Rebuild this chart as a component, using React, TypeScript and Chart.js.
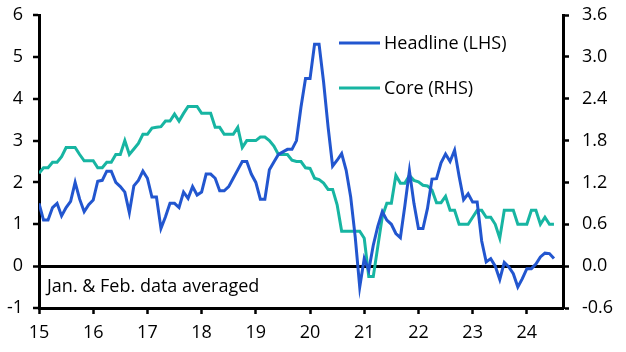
import React, { useEffect, useRef } from "react";
import { Chart, registerables } from "chart.js";

Chart.register(...registerables);

// Monthly data, Jan 2015 - Jul 2024
const startYear = 15;
const yearLabels = ["15", "16", "17", "18", "19", "20", "21", "22", "23", "24"];

const headline = [
  // 2015
  1.5, 1.1, 1.1, 1.4, 1.5, 1.2, 1.4, 1.55, 2.0, 1.6, 1.3, 1.47,
  // 2016
  1.58, 2.03, 2.05, 2.27, 2.27, 2.0, 1.9, 1.77, 1.28, 1.92, 2.05, 2.27,
  // 2017
  2.1, 1.65, 1.65, 0.9, 1.18, 1.5, 1.5, 1.4, 1.77, 1.62, 1.9, 1.7,
  // 2018
  1.77, 2.2, 2.2, 2.1, 1.8, 1.8, 1.9, 2.1, 2.3, 2.5, 2.5, 2.2,
  // 2019
  2.0, 1.6, 1.6, 2.3, 2.49, 2.67, 2.73, 2.79, 2.79, 3.0, 3.8, 4.48,
  // 2020
  4.48, 5.3, 5.3, 4.4, 3.32, 2.39, 2.53, 2.69, 2.29, 1.65, 0.7, -0.5,
  // 2021
  0.18, -0.1, 0.5, 0.95, 1.3, 1.1, 1.0, 0.78, 0.68, 1.45, 2.28, 1.5,
  // 2022
  0.9, 0.9, 1.38, 2.08, 2.09, 2.47, 2.68, 2.5, 2.77, 2.15, 1.59, 1.73,
  // 2023
  1.53, 1.53, 0.6, 0.1, 0.18, 0.0, -0.32, 0.09, -0.02, -0.18, -0.5, -0.3,
  // 2024
  -0.06, -0.06, 0.05, 0.22, 0.31, 0.3, 0.18,
];

const core = [
  // 2015
  1.33, 1.41, 1.41, 1.49, 1.49, 1.57, 1.7, 1.7, 1.7, 1.6, 1.51, 1.51,
  // 2016
  1.51, 1.41, 1.41, 1.49, 1.49, 1.6, 1.6, 1.8, 1.6, 1.68, 1.76, 1.89,
  // 2017
  1.89, 1.98, 1.99, 2.0, 2.08, 2.08, 2.18, 2.08, 2.19, 2.29, 2.29, 2.29,
  // 2018
  2.19, 2.19, 2.19, 1.99, 1.99, 1.89, 1.89, 1.89, 1.99, 1.7, 1.8, 1.8,
  // 2019
  1.8, 1.85, 1.85, 1.8, 1.72, 1.6, 1.6, 1.6, 1.52, 1.5, 1.5, 1.41,
  // 2020
  1.4, 1.26, 1.24, 1.19, 1.1, 1.1, 0.88, 0.5, 0.5, 0.5, 0.5, 0.5,
  // 2021
  0.4, -0.15, -0.15, 0.28, 0.71, 0.9, 0.9, 1.3, 1.19, 1.19, 1.3, 1.23,
  // 2022
  1.21, 1.16, 1.15, 1.09, 0.91, 0.91, 1.0, 0.8, 0.8, 0.6, 0.6, 0.6,
  // 2023
  0.7, 0.8, 0.8, 0.7, 0.7, 0.6, 0.4, 0.8, 0.8, 0.8, 0.6, 0.6,
  // 2024
  0.6, 0.8, 0.8, 0.6, 0.7, 0.6, 0.6,
];

const seriesNames = ["Headline (LHS)", "Core (RHS)"];
const noteText = "Jan. & Feb. data averaged";

const BLUE = "#2256CF";
const TEAL = "#17B5A2";
const FONT = '"Open Sans", "Noto Sans", sans-serif';
const FSIZE = 18;

const overlayPlugin = {
  id: "overlay",
  afterDraw(chart: any) {
    const ctx = chart.ctx;
    const ca = chart.chartArea;
    ctx.save();
    ctx.font = `${FSIZE}px ${FONT}`;
    ctx.textBaseline = "alphabetic";
    ctx.fillStyle = "#000";
    const items = [
      { label: seriesNames[0], color: BLUE, y: ca.top + 28 },
      { label: seriesNames[1], color: TEAL, y: ca.top + 73 },
    ];
    const lx = ca.left + 300;
    items.forEach((it) => {
      ctx.strokeStyle = it.color;
      ctx.lineWidth = 3;
      ctx.beginPath();
      ctx.moveTo(lx, it.y);
      ctx.lineTo(lx + 41, it.y);
      ctx.stroke();
      ctx.fillText(it.label, lx + 45, it.y + 6);
    });
    ctx.fillText(noteText, ca.left + 8, ca.bottom - 16);
    ctx.restore();
  },
};

const noPadY = (w: number) => (scale: any) => {
  scale.width = w;
  scale.paddingTop = 0;
  scale.paddingBottom = 0;
};

export default function App() {
  const ref = useRef<HTMLCanvasElement>(null);
  useEffect(() => {
    if (!ref.current) return;
    const chart = new Chart(ref.current, {
      type: "line",
      data: {
        datasets: [
          {
            label: seriesNames[0],
            data: headline.map((v, i) => ({ x: i, y: v })),
            borderColor: BLUE,
            borderWidth: 3,
            pointRadius: 0,
            tension: 0,
            yAxisID: "y",
          },
          {
            label: seriesNames[1],
            data: core.map((v, i) => ({ x: i, y: v })),
            borderColor: TEAL,
            borderWidth: 3,
            pointRadius: 0,
            tension: 0,
            yAxisID: "y1",
          },
        ],
      },
      options: {
        animation: false,
        responsive: false,
        layout: { padding: { top: 15, left: 0, right: 0, bottom: 0 } },
        plugins: { legend: { display: false }, tooltip: { enabled: false } },
        scales: {
          x: {
            type: "linear",
            min: 0,
            max: 116,
            afterBuildTicks: (scale: any) => {
              scale.ticks = yearLabels.map((_, i) => ({ value: i * 12 }));
            },
            afterFit: (scale: any) => {
              scale.height = 44;
              scale.paddingLeft = 0;
              scale.paddingRight = 0;
            },
            ticks: {
              autoSkip: false,
              maxRotation: 0,
              color: "#000",
              padding: 8,
              font: { family: FONT, size: FSIZE },
              callback: (v: any) => yearLabels[Math.round(Number(v) / 12)] ?? String(startYear + Math.round(Number(v) / 12)),
            },
            grid: {
              drawOnChartArea: false,
              drawTicks: true,
              tickLength: 6,
              tickColor: "#000",
              tickWidth: 2.5,
            },
            border: { display: true, color: "#000", width: 3 },
          },
          y: {
            position: "left",
            min: -1,
            max: 6,
            afterFit: noPadY(39),
            ticks: {
              stepSize: 1,
              color: "#000",
              padding: 10,
              font: { family: FONT, size: FSIZE },
            },
            grid: {
              drawOnChartArea: true,
              drawTicks: true,
              tickLength: 6,
              tickColor: "#000",
              tickWidth: 2.5,
              color: (c: any) => (c.tick && c.tick.value === 0 ? "#000" : "rgba(0,0,0,0)"),
              lineWidth: (c: any) => (c.tick && c.tick.value === 0 ? 3 : 0),
            },
            border: { display: true, color: "#000", width: 3 },
          },
          y1: {
            position: "right",
            min: -0.6,
            max: 3.6,
            afterFit: noPadY(63),
            ticks: {
              stepSize: 0.6,
              color: "#000",
              padding: 13,
              font: { family: FONT, size: FSIZE },
              callback: (v: any) => Number(v).toFixed(1),
            },
            grid: {
              drawOnChartArea: false,
              drawTicks: true,
              tickLength: 6,
              tickColor: "#000",
              tickWidth: 2.5,
            },
            border: { display: true, color: "#000", width: 3 },
          },
        },
      } as any,
      plugins: [overlayPlugin],
    });
    return () => chart.destroy();
  }, []);
  return (
    <div style={{ position: "absolute", left: 0, top: 0, width: 626, height: 352, background: "#fff" }}>
      <canvas ref={ref} width={626} height={352} style={{ display: "block" }} />
    </div>
  );
}
